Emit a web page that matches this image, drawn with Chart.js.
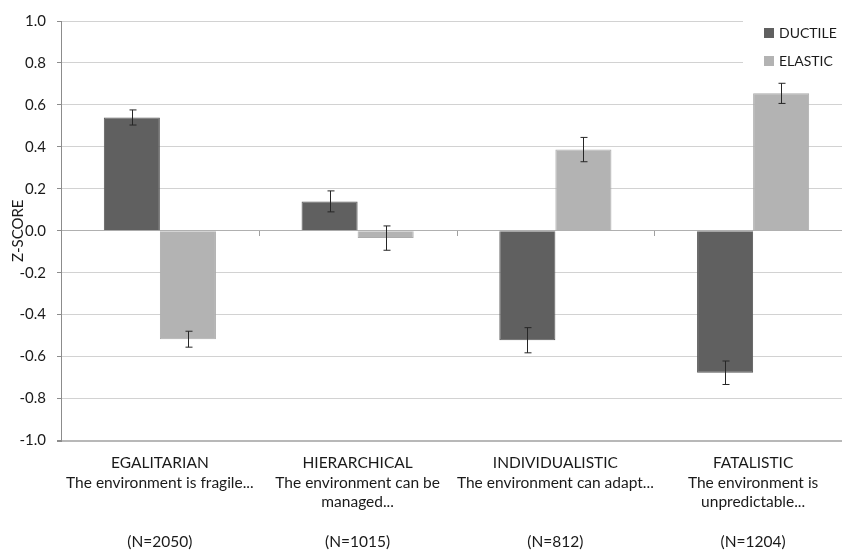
<!DOCTYPE html>
<html>
<head>
<meta charset="utf-8">
<script src="https://cdn.jsdelivr.net/npm/chart.js@4.4.0/dist/chart.umd.min.js"></script>
<style>
  html, body { margin: 0; padding: 0; background: #ffffff; overflow: hidden; }
  #wrap { width: 852px; height: 550px; }
</style>
</head>
<body>
<div id="wrap"><canvas id="c" width="852" height="550"></canvas></div>
<script>
// ---- data ----
const groupNames = ['EGALITARIAN', 'HIERARCHICAL', 'INDIVIDUALISTIC', 'FATALISTIC'];
const groupDescriptions = [
  ['The environment is fragile...', ''],
  ['The environment can be', 'managed...'],
  ['The environment can adapt...', ''],
  ['The environment is', 'unpredictable...']
];
const sampleSizes = ['(N=2050)', '(N=1015)', '(N=812)', '(N=1204)'];
const seriesNames = ['DUCTILE', 'ELASTIC'];
const ductile = [0.54, 0.14, -0.522, -0.677];
const elastic = [-0.517, -0.035, 0.387, 0.655];
const ductileErr = [0.036, 0.05, 0.06, 0.056];
const elasticErr = [0.038, 0.058, 0.058, 0.048];
const yTicks = [-1.0, -0.8, -0.6, -0.4, -0.2, 0.0, 0.2, 0.4, 0.6, 0.8, 1.0];

const labels = groupNames.map((g, i) => [g, ...groupDescriptions[i], '', sampleSizes[i]]);
const errors = [ductileErr, elasticErr];
const colors = ['#606060', '#b3b3b3'];
const FONT = 'Lato, "Open Sans", sans-serif';

const errorBars = {
  id: 'errorBars',
  afterDatasetsDraw(chart) {
    const ctx = chart.ctx, y = chart.scales.y;
    ctx.save();
    ctx.strokeStyle = '#262626';
    ctx.lineWidth = 1;
    chart.data.datasets.forEach((ds, di) => {
      const meta = chart.getDatasetMeta(di);
      meta.data.forEach((bar, i) => {
        const v = ds.data[i], e = errors[di][i];
        const x = Math.round(bar.x) + 0.5;
        const y1 = y.getPixelForValue(v + e), y2 = y.getPixelForValue(v - e);
        ctx.beginPath();
        ctx.moveTo(x, y1); ctx.lineTo(x, y2);
        ctx.moveTo(x - 3, y1); ctx.lineTo(x + 4, y1);
        ctx.moveTo(x - 3, y2); ctx.lineTo(x + 4, y2);
        ctx.stroke();
      });
    });
    ctx.restore();
  }
};

const zeroTicks = {
  id: 'zeroTicks',
  beforeDatasetsDraw(chart) {
    const ctx = chart.ctx, xs = chart.scales.x, ys = chart.scales.y;
    const y0 = Math.round(ys.getPixelForValue(0));
    ctx.save();
    ctx.strokeStyle = '#a0a0a0';
    ctx.lineWidth = 1;
    for (let i = 0; i < labels.length - 1; i++) {
      const x = Math.round((xs.getPixelForValue(i) + xs.getPixelForValue(i + 1)) / 2) + 0.5;
      ctx.beginPath(); ctx.moveTo(x, y0); ctx.lineTo(x, y0 + 5); ctx.stroke();
    }
    // legend background (covers gridlines behind the legend)
    ctx.fillStyle = '#ffffff';
    ctx.fillRect(743, 0, chart.width - 743, 80);
    ctx.restore();
  },
  afterDraw(chart) {
    const ctx = chart.ctx;
    ctx.save();
    ctx.font = '14px ' + FONT;
    ctx.textBaseline = 'middle';
    ctx.textAlign = 'left';
    seriesNames.forEach((n, i) => {
      const cy = 33 + i * 28;
      ctx.fillStyle = colors[i];
      ctx.fillRect(764, cy - 5, 10, 10);
      ctx.fillStyle = '#1a1a1a';
      ctx.fillText(n, 779, cy);
    });
    ctx.restore();
  }
};

new Chart(document.getElementById('c'), {
  type: 'bar',
  data: {
    labels: labels,
    datasets: [
      { label: seriesNames[0], data: ductile, backgroundColor: colors[0], borderColor: '#585858', borderWidth: 1 },
      { label: seriesNames[1], data: elastic, backgroundColor: colors[1], borderColor: '#ababab', borderWidth: 1 }
    ]
  },
  options: {
    responsive: false,
    animation: false,
    layout: { padding: { top: 21, right: 0, left: 0, bottom: 0 } },
    plugins: { legend: { display: false }, tooltip: { enabled: false } },
    datasets: { bar: { categoryPercentage: 0.567, barPercentage: 1.0 } },
    scales: {
      x: {
        grid: { display: false },
        border: { display: false },
        ticks: { color: '#1a1a1a', font: { family: FONT, size: 15.5, lineHeight: 1.27 }, padding: 4.5, maxRotation: 0, autoSkip: false },
        afterFit(s) { s.height = 109.5; }
      },
      y: {
        min: -1, max: 1,
        afterBuildTicks(s) { s.ticks = yTicks.map(v => ({ value: v })); },
        afterFit(s) { s.width = 61; },
        grid: {
          color: (c) => (c.tick && Math.abs(c.tick.value + 1) < 1e-9) ? '#b8b8b8' : (c.tick && Math.abs(c.tick.value) < 1e-9 ? '#b0b0b0' : '#d2d2d2'),
          lineWidth: (c) => (c.tick && Math.abs(c.tick.value + 1) < 1e-9) ? 2 : 1,
          tickColor: '#8c8c8c',
          tickLength: 4
        },
        border: { display: true, color: '#8c8c8c', width: 1 },
        ticks: {
          color: '#1a1a1a', font: { family: FONT, size: 15 }, padding: 11,
          callback: (v) => Math.abs(v) < 1e-9 ? '0.0' : Number(v).toFixed(1)
        },
        title: { display: true, text: 'Z-SCORE', color: '#1a1a1a', font: { family: FONT, size: 15 }, padding: { top: 9, bottom: 0 } }
      }
    }
  },
  plugins: [errorBars, zeroTicks]
});
</script>
</body>
</html>
